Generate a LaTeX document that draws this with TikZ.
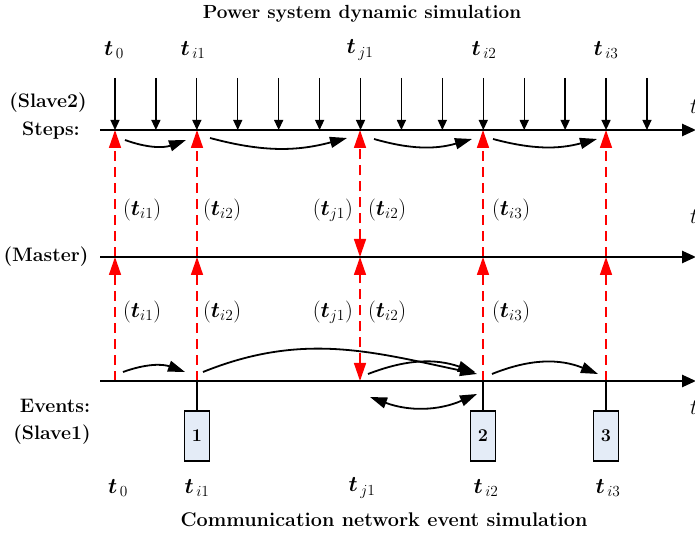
\RequirePackage{fix-cm}
\documentclass[tikz,border=0pt]{standalone}
\usepackage{amsmath, amssymb}
\usepackage{tikz}
\usetikzlibrary{arrows.meta, positioning}
\definecolor{boxfill}{RGB}{228,236,247}
\newcommand{\tv}[1]{\boldsymbol{t}_{\,#1}}
\newcommand{\ptv}[1]{\mathbf{(}\boldsymbol{t}_{#1}\mathbf{)}}

\begin{document}
\begin{tikzpicture}[
  x=1pt, y=1pt,
  axis/.style={line width=2.6pt, -{Triangle[length=14pt,width=12pt]}},
  tick/.style={line width=1.3pt, -{Triangle[length=10pt,width=9pt]}},
  sync/.style={red, line width=1.5pt, dash pattern=on 10pt off 6pt,
               -{Triangle[length=18pt,width=12pt]}},
  syncboth/.style={sync, {Triangle[length=18pt,width=12pt]}-{Triangle[length=18pt,width=12pt]}},
  flow/.style={line width=1.8pt, -{Triangle[length=17pt,width=11pt]}},
  flowboth/.style={flow, {Triangle[length=17pt,width=11pt]}-{Triangle[length=17pt,width=11pt]}},
  event/.style={draw, line width=1.4pt, fill=boxfill, minimum width=25pt,
                minimum height=50pt, inner sep=0pt, font=\fontsize{18}{20}\selectfont\bfseries},
  side/.style={font=\fontsize{19.5}{22}\selectfont\bfseries},
  title/.style={font=\fontsize{19}{22}\selectfont\bfseries},
  tlbl/.style={font=\fontsize{22}{26}\selectfont},
  plbl/.style={font=\fontsize{22}{26}\selectfont, inner sep=0pt}
]
\useasboundingbox (0,0) rectangle (695,534);

% Crossings of the three time lines
\foreach \c/\x in {0/115, i1/197, j1/360, i2/483, i3/606} {
  \coordinate (s\c) at (\x,404);
  \coordinate (m\c) at (\x,277);
  \coordinate (e\c) at (\x,153);
}

% Titles
\node[title] (ttop) at (362,520) {Power system dynamic simulation};
\node[title, font=\fontsize{19.8}{22}\selectfont\bfseries] (tbot) at (384,14) {Communication network event simulation};

% Side labels
\node[side] (slave2) at (48,431) {(Slave2)};
\node[side] (steps) at (51,403) {Steps:};
\node[side] (master) at (46,277) {(Master)};
\node[side] (events) at (55,128) {Events:};
\node[side] (slave1) at (52,99) {(Slave1)};

% Synchronisation (red)
\draw[sync] (e0) -- (m0);   \draw[sync] (m0) -- (s0);
\draw[sync] (ei1) -- (mi1); \draw[sync] (mi1) -- (si1);
\draw[syncboth] (ej1) -- (mj1); \draw[syncboth] (mj1) -- (sj1);
\draw[sync] (ei2) -- (mi2); \draw[sync] (mi2) -- (si2);
\draw[sync] (ei3) -- (mi3); \draw[sync] (mi3) -- (si3);

% Time lines
\coordinate (sA) at (100,404); \coordinate (sB) at (696,404);
\coordinate (mA) at (100,277); \coordinate (mB) at (696,277);
\coordinate (eA) at (100,153); \coordinate (eB) at (696,153);
\draw[axis] (sA) -- (sB);
\draw[axis] (mA) -- (mB);
\draw[axis] (eA) -- (eB);
\node[tlbl, anchor=west, inner sep=0pt] (tS) at (690,427) {$t$};
\node[tlbl, anchor=west, inner sep=0pt] (tM) at (690,317) {$t$};
\node[tlbl, anchor=west, inner sep=0pt] (tE) at (690,126) {$t$};

% Integration steps
\foreach \k in {0,...,13}
  \draw[tick] ({115+40.92*\k},456) -- ({115+40.92*\k},404);

% Top and bottom time labels
\node[tlbl] (top0) at (114,484) {$\tv{0}$};
\node[tlbl] (topi1) at (193,484) {$\tv{i1}$};
\node[tlbl] (topj1) at (360,484) {$\tv{j1}$};
\node[tlbl] (topi2) at (484,484) {$\tv{i2}$};
\node[tlbl] (topi3) at (606,484) {$\tv{i3}$};
\node[tlbl] (bot0) at (118,46) {$\tv{0}$};
\node[tlbl] (boti1) at (197,46) {$\tv{i1}$};
\node[tlbl] (botj1) at (362,46) {$\tv{j1}$};
\node[tlbl] (boti2) at (486,46) {$\tv{i2}$};
\node[tlbl] (boti3) at (608,46) {$\tv{i3}$};

% Exchanged times
\node[plbl, anchor=west] (ua) at (123,324) {$\ptv{i1}$};
\node[plbl, anchor=west] (ub) at (203,324) {$\ptv{i2}$};
\node[plbl, anchor=east] (uc) at (353,324) {$\ptv{j1}$};
\node[plbl, anchor=west] (ud) at (368,324) {$\ptv{i2}$};
\node[plbl, anchor=west] (ue) at (492,324) {$\ptv{i3}$};
\node[plbl, anchor=west] (la) at (123,222) {$\ptv{i1}$};
\node[plbl, anchor=west] (lb) at (203,222) {$\ptv{i2}$};
\node[plbl, anchor=east] (lc) at (353,222) {$\ptv{j1}$};
\node[plbl, anchor=west] (ld) at (368,222) {$\ptv{i2}$};
\node[plbl, anchor=west] (le) at (492,222) {$\ptv{i3}$};

% Event boxes
\node[event] (b1) at (197,98) {1};
\node[event] (b2) at (483,98) {2};
\node[event] (b3) at (606,98) {3};
\draw[line width=1.4pt] (ei1) -- (b1.north);
\draw[line width=1.4pt] (ei2) -- (b2.north);
\draw[line width=1.4pt] (ei3) -- (b3.north);

% Progress arrows
\draw[flow] ([shift={(10,-10)}]s0) to[bend right=20] ([shift={(-11,-10)}]si1);
\draw[flow] ([shift={(13,-8)}]si1) to[bend right=15] ([shift={(-13,-8)}]sj1);
\draw[flow] ([shift={(14,-9)}]sj1) to[bend right=16] ([shift={(-11,-9)}]si2);
\draw[flow] ([shift={(10,-9)}]si2) to[bend right=15] ([shift={(-9,-9)}]si3);
\draw[flow] ([shift={(8,9)}]e0) to[bend left=20] ([shift={(-12,9)}]ei1);
\draw[flow] ([shift={(6,9)}]ei1) to[out=22, in=168] ([shift={(-6,7)}]ei2);
\draw[flow] ([shift={(8,7)}]ej1) to[bend left=20] ([shift={(-8,9)}]ei2);
\draw[flow] ([shift={(9,7)}]ei2) to[bend left=22] ([shift={(-8,7)}]ei3);
\draw[flowboth] ([shift={(10,-16)}]ej1) to[bend right=22] ([shift={(-6,-13)}]ei2);

\end{tikzpicture}
\end{document}
